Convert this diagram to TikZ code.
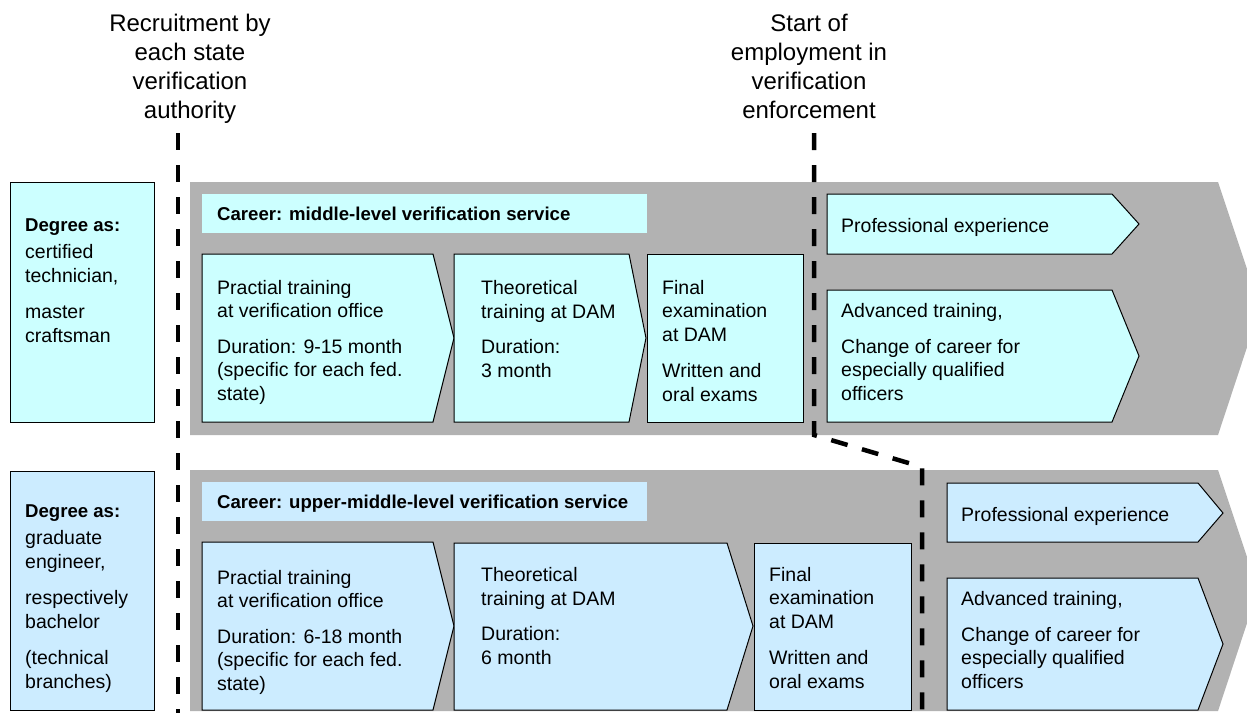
\documentclass[tikz,border=0pt]{standalone}
\usepackage{fontspec}
\setmainfont{Liberation Sans}
\definecolor{bandgray}{RGB}{178,178,178}
\definecolor{paleC}{RGB}{204,255,255}
\definecolor{paleB}{RGB}{204,236,255}
\newcommand{\bodyfont}{\fontsize{19.5}{23.5}\selectfont}
\newcommand{\labfont}{\fontsize{24}{29}\selectfont}
\newcommand{\hd}[1]{{\fontsize{18.6}{23.5}\selectfont\bfseries #1}}
\tikzset{
  band/.style={fill=bandgray},
  boxC/.style={draw=black, line width=1, fill=paleC},
  boxB/.style={draw=black, line width=1, fill=paleB},
  txt/.style={anchor=base west, align=left, inner sep=0pt, font=\bodyfont},
  toplab/.style={anchor=base, align=center, inner sep=0pt, font=\labfont},
  milestone/.style={draw=black, line width=4.5, dash pattern=on 17 off 15}
}
\begin{document}
\begin{tikzpicture}[x=1pt,y=-1pt]
\useasboundingbox (0,0) rectangle (1247,713);
\clip (0,0) rectangle (1247,713);
% bands
\fill[band] (190,182) -- (1218,182) -- (1260,308) -- (1218,435) -- (190,435) -- cycle;
\fill[band] (190,470) -- (1218,470) -- (1258,590) -- (1218,711) -- (190,711) -- cycle;
% top labels (anchored at the baseline of their last line)
\node[toplab] (recr) at (190,118) {Recruitment by\\each state\\verification\\authority};
\node[toplab] (start) at (809,118) {Start of\\employment in\\verification\\enforcement};
% left boxes
\draw[boxC] (10,182) rectangle (154,422);
\node[txt] (deg1) at (25,342) {\hd{Degree as:}\\[4pt]certified\\technician,\\[13pt]master\\craftsman};
\draw[boxB] (10,471) rectangle (154,710);
\node[txt] (deg2) at (25,688) {\hd{Degree as:}\\[4pt]graduate\\engineer,\\[13pt]respectively\\bachelor\\[13pt](technical\\branches)};
% headers
\fill[paleC] (202,194) rectangle (647,233);
\node[txt] (car1) at (217,220) {\hd{Career: middle-level verification service}};
\fill[paleB] (202,482) rectangle (647,521);
\node[txt] (car2) at (217,508) {\hd{Career: upper-middle-level verification service}};
% top row
\draw[boxC] (202,254) -- (433,254) -- (454,338) -- (433,422) -- (202,422) -- cycle;
\node[txt] (pt1) at (217,400) {Practial training\\at verification office\\[12pt]Duration: 9-15 month\\(specific for each fed.\\state)};
\draw[boxC] (454,254) -- (629,254) -- (646,338) -- (629,422) -- (454,422) -- cycle;
\node[txt] (th1) at (481,377) {Theoretical\\training at DAM\\[12pt]Duration:\\3 month};
\draw[boxC] (647,254) rectangle (803,422);
\node[txt] (fe1) at (662,401) {Final\\examination\\at DAM\\[13pt]Written and\\oral exams};
\draw[boxC] (827,194) -- (1112,194) -- (1139,224) -- (1112,254) -- (827,254) -- cycle;
\node[txt] (pe1) at (841,232) {Professional experience};
\draw[boxC] (827,290) -- (1112,290) -- (1139,356) -- (1112,422) -- (827,422) -- cycle;
\node[txt] (at1) at (841,400) {Advanced training,\\[12pt]Change of career for\\especially qualified\\officers};
% bottom row
\draw[boxB] (202,542) -- (433,542) -- (454,626) -- (433,710) -- (202,710) -- cycle;
\node[txt] (pt2) at (217,690) {Practial training\\at verification office\\[12pt]Duration: 6-18 month\\(specific for each fed.\\state)};
\draw[boxB] (454,543) -- (727,543) -- (753,626) -- (727,710) -- (454,710) -- cycle;
\node[txt] (th2) at (481,664) {Theoretical\\training at DAM\\[12pt]Duration:\\6 month};
\draw[boxB] (754,543) rectangle (911,710);
\node[txt] (fe2) at (769,688) {Final\\examination\\at DAM\\[13pt]Written and\\oral exams};
\draw[boxB] (947,483) -- (1198,483) -- (1223,513) -- (1198,542) -- (947,542) -- cycle;
\node[txt] (pe2) at (961,521) {Professional experience};
\draw[boxB] (947,578) -- (1198,578) -- (1223,644) -- (1198,710) -- (947,710) -- cycle;
\node[txt] (at2) at (961,688) {Advanced training,\\[12pt]Change of career for\\especially qualified\\officers};
% milestone lines
\coordinate (m1top) at (178,133);
\coordinate (m1bot) at (178,713);
\coordinate (m2top) at (814,133);
\coordinate (m2a) at (814,435);
\coordinate (m2b) at (922,467);
\coordinate (m2bot) at (922,713);
\draw[milestone] (m1top) -- (m1bot);
\draw[milestone] (m2top) -- (m2a) -- (m2b) -- (m2bot);
\end{tikzpicture}
\end{document}
